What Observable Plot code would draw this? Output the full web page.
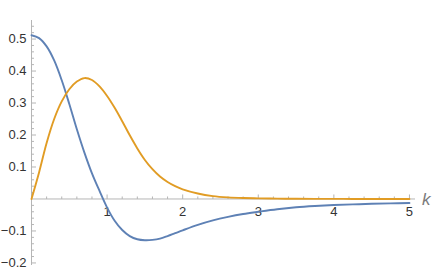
<!DOCTYPE html>
<html>
<head>
<meta charset="utf-8">
<script src="https://cdn.jsdelivr.net/npm/d3@7"></script>
<script src="https://cdn.jsdelivr.net/npm/@observablehq/plot@0.6"></script>
<style>
  html, body { margin: 0; padding: 0; background: #fff; }
  #chart svg { display: block; }
</style>
</head>
<body>
<div id="chart"></div>
<script>
// ---- data ----
const kValues = [0, 0.1, 0.2, 0.3, 0.4, 0.5, 0.6, 0.7, 0.8, 0.9, 1.0, 1.1, 1.2, 1.3, 1.4, 1.5, 1.6, 1.7, 1.8, 1.9, 2.0,
                 2.2, 2.4, 2.6, 2.8, 3.0, 3.25, 3.5, 3.75, 4.0, 4.25, 4.5, 4.75, 5.0];
const blueValues = [0.512, 0.503, 0.477, 0.433, 0.371, 0.297, 0.218, 0.145, 0.080, 0.025, -0.027, -0.068, -0.097, -0.116, -0.126, -0.129, -0.128, -0.124, -0.116, -0.107, -0.098,
                    -0.081, -0.067, -0.056, -0.047, -0.040, -0.032, -0.026, -0.022, -0.019, -0.017, -0.015, -0.0137, -0.0125];
const orangeValues = [0, 0.083, 0.175, 0.250, 0.305, 0.343, 0.367, 0.378, 0.372, 0.352, 0.322, 0.285, 0.243, 0.199, 0.158, 0.122, 0.093, 0.070, 0.053, 0.040, 0.030,
                      0.017, 0.009, 0.005, 0.003, 0.002, 0.001, 0.0006, 0.0003, 0.0002, 0.0001, 0, 0, 0];
const xMajorTicks = [1, 2, 3, 4, 5];
const xMinorTicks = [0.2, 0.4, 0.6, 0.8, 1.2, 1.4, 1.6, 1.8, 2.2, 2.4, 2.6, 2.8, 3.2, 3.4, 3.6, 3.8, 4.2, 4.4, 4.6, 4.8];
const yMajorTicks = [-0.2, -0.1, 0.1, 0.2, 0.3, 0.4, 0.5];
const yMinorTicks = [-0.18, -0.16, -0.14, -0.12, -0.08, -0.06, -0.04, -0.02, 0.02, 0.04, 0.06, 0.08,
                     0.12, 0.14, 0.16, 0.18, 0.22, 0.24, 0.26, 0.28, 0.32, 0.34, 0.36, 0.38,
                     0.42, 0.44, 0.46, 0.48, 0.52, 0.54];
const xAxisLabel = ["k"];

// ---- build tables ----
const blueData = kValues.map((k, i) => ({k, v: blueValues[i]}));
const orangeData = kValues.map((k, i) => ({k, v: orangeValues[i]}));

// custom tick symbols (length = r)
const tickUp = {draw(ctx, size) { const r = Math.sqrt(size / Math.PI); ctx.moveTo(0, 0); ctx.lineTo(0, -r); }};
const tickRight = {draw(ctx, size) { const r = Math.sqrt(size / Math.PI); ctx.moveTo(0, 0); ctx.lineTo(r, 0); }};

const axisColor = "#b5b5b5";
const labelColor = "#333333";
const font = "'Liberation Sans', Arial, sans-serif";
const fmt = d => (d < 0 ? "\u2212" : "") + Math.abs(d).toString();

const chart = Plot.plot({
  width: 436,
  height: 271,
  marginLeft: 31,
  marginRight: 21,
  marginTop: 20,
  marginBottom: 6,
  style: {fontFamily: font, background: "#fff"},
  x: {domain: [0, 5.08], axis: null},
  y: {domain: [-0.208, 0.558], axis: null},
  marks: [
    // axes through origin
    Plot.ruleY([0], {stroke: axisColor, strokeWidth: 1}),
    Plot.ruleX([0], {stroke: axisColor, strokeWidth: 1}),
    // x ticks (pointing up)
    Plot.dot(xMajorTicks, {x: d => d, y: () => 0, symbol: tickUp, r: 4.5, stroke: axisColor, fill: "none", strokeWidth: 1}),
    Plot.dot(xMinorTicks, {x: d => d, y: () => 0, symbol: tickUp, r: 2.5, stroke: axisColor, fill: "none", strokeWidth: 1}),
    // y ticks (pointing right)
    Plot.dot(yMajorTicks, {x: () => 0, y: d => d, symbol: tickRight, r: 4.5, stroke: axisColor, fill: "none", strokeWidth: 1}),
    Plot.dot(yMinorTicks, {x: () => 0, y: d => d, symbol: tickRight, r: 2.5, stroke: axisColor, fill: "none", strokeWidth: 1}),
    // tick labels
    Plot.text(xMajorTicks, {x: d => d, y: () => 0, text: d => fmt(d), dy: 13, fontSize: 13, fill: labelColor, fontFamily: font}),
    Plot.text(yMajorTicks, {x: () => 0, y: d => d, text: d => fmt(d), dx: -5, textAnchor: "end", fontSize: 13, fill: labelColor, fontFamily: font}),
    // axis label
    Plot.text(xAxisLabel, {y: () => 0, frameAnchor: "right", text: d => d, dx: 15, dy: 1, fontSize: 17, fontStyle: "italic", fill: "#7a7a7a", fontFamily: font}),
    // curves
    Plot.line(blueData, {x: "k", y: "v", stroke: "#5E81B5", strokeWidth: 1.9, curve: "catmull-rom"}),
    Plot.line(orangeData, {x: "k", y: "v", stroke: "#E19C24", strokeWidth: 1.9, curve: "catmull-rom"})
  ]
});
document.getElementById("chart").appendChild(chart);
</script>
</body>
</html>
